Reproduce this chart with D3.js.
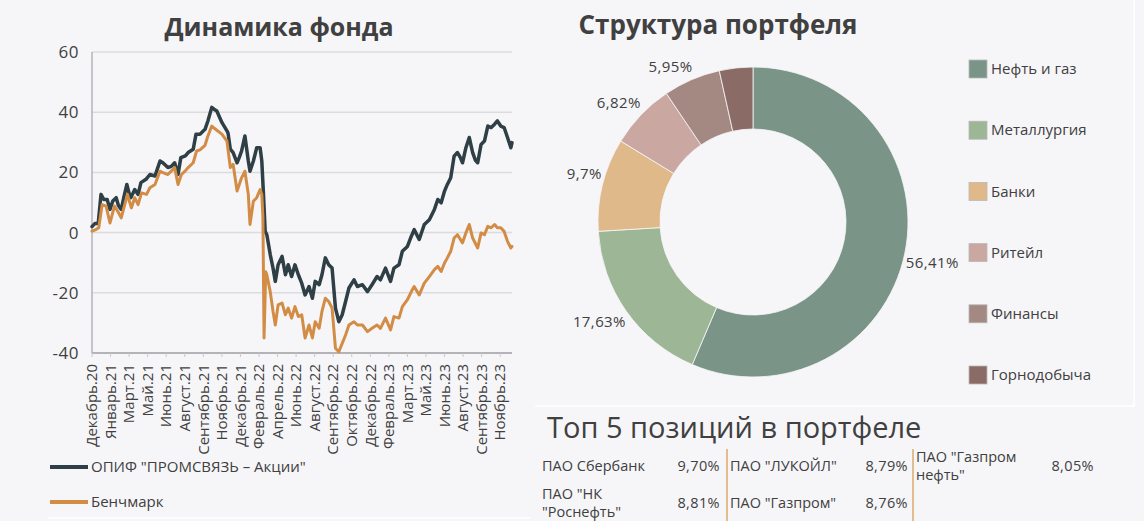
<!DOCTYPE html>
<html>
<head>
<meta charset="utf-8">
<script src="https://cdn.jsdelivr.net/npm/d3@7/dist/d3.min.js"></script>
<style>
    body { margin: 0; background: #f6f6f9; }
    svg { display: block; font-family: "Open Sans", sans-serif; }
</style>
</head>
<body>
<div id="page"></div>
<script>

// ---- data ----

// x axis labels (one every labelEvery trading days)
const monthLabels = ["Декабрь.20", "Январь.21", "Март.21", "Май.21", "Июнь.21", "Август.21", "Сентябрь.21",
    "Ноябрь.21", "Декабрь.21", "Февраль.22", "Апрель.22", "Июнь.22", "Август.22", "Сентябрь.22", "Октябрь.22",
    "Декабрь.22", "Февраль.23", "Март.23", "Май.23", "Июнь.23", "Август.23", "Сентябрь.23", "Ноябрь.23"];
const labelEvery = 33;
const totalDays = 747;

const yTicks = [60, 40, 20, 0, -20, -40];

// ОПИФ "ПРОМСВЯЗЬ – Акции", % since start
const fundDays = [0,5,11,16,21,27,32,37,43,47,52,57,62,66,69,76,82,87,96,103,112,116,121,126,135,141,147,153,158,166,
    171,180,185,192,201,206,213,217,222,231,240,242,246,251,258,262,266,272,278,281,287,293,299,302,305,308,311,317,322,326,
    331,338,344,349,355,361,367,373,379,386,392,397,404,409,415,421,427,433,439,445,451,457,466,472,481,490,498,507,513,522,
    531,537,546,552,561,568,573,582,591,600,609,615,621,627,632,638,644,650,655,659,665,671,677,682,686,692,698,704,710,716,
    721,727,733,739,745,747];
const fundValues = [2,3,3,12.7,11,11,7.7,10.5,11.6,9,7.7,12,16,13,11.6,14.3,12.7,16.6,17.7,19.3,
    18.8,21,23.8,23.2,21.6,22,23.2,19.3,24.9,25.5,26.6,27.7,32.7,32.7,34.3,37,41.6,41,40.4,36.6,
    33.8,33,27.7,26.6,23.2,25,27.1,32.1,23.8,20.4,23.8,28.2,28.2,23.8,12.7,0.4,-0.7,-7.3,-11.8,-16.2,
    -10.7,-7.9,-14,-10.7,-14.6,-10.7,-14,-16.8,-20.7,-17.9,-21.8,-16.2,-17.3,-14,-8.4,-10.7,-11.8,-25.1,-29.6,-27.3,
    -22.9,-18.4,-15.7,-17.9,-17.3,-19.6,-17.3,-14.6,-15.7,-11.8,-16.2,-11.8,-10.7,-6.2,-4.6,-1.2,1,-2.3,2.7,4.3,
    7.7,11,9.9,13.8,16,18.2,25.4,26.6,25,23.2,28.2,31.6,26.6,24,23.2,29.3,30.4,35.4,34.9,36,
    37.1,35.4,34.9,31.6,28.2,29.9];

// Бенчмарк, % since start
const benchDays = [0,7,12,18,25,32,40,46,52,63,70,76,82,88,97,103,112,121,126,135,
    147,153,159,166,171,180,186,192,201,206,213,222,231,240,246,251,258,266,272,278,
    281,287,293,299,302,304,306,309,311,317,322,326,331,338,344,349,355,361,367,373,
    379,386,392,397,404,409,415,421,427,433,439,445,451,457,466,472,481,490,498,507,
    513,522,531,537,546,552,561,568,573,582,591,600,609,615,621,627,632,638,644,650,
    659,665,671,677,686,692,698,704,710,716,721,727,733,739,745,747];
const benchValues = [0.5,1,1.6,9.3,8.8,3.2,8.8,7,4.9,12.7,8.2,11.6,9.3,13.2,12.7,14.9,16,20.4,19.9,19.3,
    21.6,16,19.3,20.5,21.6,23.2,27.1,27.5,29,32,35.4,34,32.7,30.4,21.6,22.7,13.8,18.2,20.4,12.7,
    2.7,10.4,11.6,14.3,12.7,5,-35,-13,-14,-19.6,-26.2,-30.7,-24,-23.4,-27.3,-25.1,-28.4,-24.6,-27.9,-27.3,
    -35,-30.7,-35,-29.6,-31.8,-26.2,-21.8,-22.9,-25.1,-38.4,-39.6,-36.8,-34,-30.7,-29.6,-30.7,-30.7,-32.9,-31.8,-30.7,
    -31.8,-28.4,-32.3,-27.9,-28.4,-24.6,-22.3,-19.6,-17.9,-20.7,-16.8,-14.6,-12.3,-11.2,-12.9,-10.1,-8.4,-6.2,-1.8,-0.7,
    -3.4,-0.1,2.7,-1.8,-5.1,-0.1,-0.7,2.1,1.6,2.7,1.6,1.6,0.4,-2.9,-5.1,-4.6];

const seriesNames = ['ОПИФ "ПРОМСВЯЗЬ – Акции"', "Бенчмарк"];
const seriesColors = ["#2e3f46", "#d38c45"];

// portfolio structure
const sectors = ["Нефть и газ", "Металлургия", "Банки", "Ритейл", "Финансы", "Горнодобыча"];
const sectorShares = [56.41, 17.63, 9.7, 6.82, 5.95, 3.49];
const sectorLabels = ["56,41%", "17,63%", "9,7%", "6,82%", "5,95%", null];
const sectorColors = ["#7a9588", "#9db695", "#e0b98a", "#cba7a1", "#a48983", "#8a6b65"];

// top 5 positions
const topNames = ["ПАО Сбербанк", "ПАО \"ЛУКОЙЛ\"", "ПАО \"Газпром\nнефть\"", "ПАО \"НК\n\"Роснефть\"", "ПАО \"Газпром\""];
const topShares = ["9,70%", "8,79%", "8,05%", "8,81%", "8,76%"];

const textColor = "#404040";


/* * * * * * * * * * * * * *
*        LineChart         *
* * * * * * * * * * * * * */

class LineChart {

    constructor(_svg) {
        this.svg = _svg;
        this.initVis();
    }

    initVis() {
        let vis = this;

        vis.margin = {top: 52, left: 92, right: 512, bottom: 353};

        vis.x = d3.scaleLinear().domain([0, totalDays]).range([vis.margin.left, vis.margin.right]);
        vis.y = d3.scaleLinear().domain([-40, 60]).range([vis.margin.bottom, vis.margin.top]);

        vis.g = vis.svg.append("g").attr("class", "line-chart");

        // title
        vis.g.append("text")
            .attr("x", 279).attr("y", 36)
            .attr("text-anchor", "middle")
            .attr("font-size", 25).attr("font-weight", 700)
            .attr("fill", textColor)
            .text("Динамика фонда");

        vis.updateVis();
    }

    updateVis() {
        let vis = this;

        // gridlines
        vis.g.selectAll(".grid")
            .data(yTicks.filter(d => d !== -40))
            .enter().append("line")
            .attr("class", "grid")
            .attr("x1", vis.margin.left).attr("x2", vis.margin.right)
            .attr("y1", d => vis.y(d)).attr("y2", d => vis.y(d))
            .attr("stroke", "#dcdcdf").attr("stroke-width", 1.5);

        // y labels
        vis.g.selectAll(".ylab")
            .data(yTicks)
            .enter().append("text")
            .attr("class", "ylab")
            .attr("x", 79).attr("y", d => vis.y(d))
            .attr("dy", "0.35em")
            .attr("text-anchor", "end")
            .attr("font-size", 17)
            .attr("letter-spacing", 0.5)
            .attr("fill", textColor)
            .text(d => d);

        // axes lines
        vis.g.append("line")
            .attr("x1", vis.margin.left).attr("x2", vis.margin.left)
            .attr("y1", vis.margin.top).attr("y2", vis.margin.bottom)
            .attr("stroke", "#b4b4b8").attr("stroke-width", 1.5);
        vis.g.append("line")
            .attr("x1", vis.margin.left).attr("x2", vis.margin.right)
            .attr("y1", vis.margin.bottom).attr("y2", vis.margin.bottom)
            .attr("stroke", "#b4b4b8").attr("stroke-width", 2);

        // x ticks + labels
        let ticks = vis.g.selectAll(".xtick")
            .data(monthLabels)
            .enter().append("g")
            .attr("class", "xtick")
            .attr("transform", (d, i) => `translate(${vis.x(i * labelEvery)}, ${vis.margin.bottom})`);

        ticks.append("line")
            .attr("y1", 0).attr("y2", 4)
            .attr("stroke", "#c8c8cc");

        ticks.append("text")
            .attr("transform", "translate(0, 11) rotate(-90)")
            .attr("text-anchor", "end")
            .attr("dy", "0.35em")
            .attr("font-size", 15)
            .attr("fill", textColor)
            .text(d => d);

        // lines
        let line = d3.line()
            .x(d => vis.x(d[0]))
            .y(d => vis.y(d[1]));

        let series = [
            d3.zip(fundDays, fundValues),
            d3.zip(benchDays, benchValues)
        ];

        vis.g.selectAll(".series")
            .data(series)
            .enter().append("path")
            .attr("class", "series")
            .attr("d", line)
            .attr("fill", "none")
            .attr("stroke", (d, i) => seriesColors[i])
            .attr("stroke-width", (d, i) => i === 0 ? 3.5 : 3)
            .attr("stroke-linejoin", "round")
            .attr("stroke-linecap", "round");

        // legend
        let legend = vis.g.selectAll(".legend")
            .data(seriesNames)
            .enter().append("g")
            .attr("class", "legend")
            .attr("transform", (d, i) => `translate(50, ${467 + i * 35})`);

        legend.append("line")
            .attr("x1", 0).attr("x2", 38)
            .attr("stroke", (d, i) => seriesColors[i])
            .attr("stroke-width", 4);

        legend.append("text")
            .attr("x", 41).attr("dy", "0.35em")
            .attr("font-size", 15)
            .attr("fill", textColor)
            .text(d => d);
    }
}


/* * * * * * * * * * * * * *
*        DonutChart        *
* * * * * * * * * * * * * */

class DonutChart {

    constructor(_svg) {
        this.svg = _svg;
        this.initVis();
    }

    initVis() {
        let vis = this;

        vis.cx = 753;
        vis.cy = 222;
        vis.outerRadius = 155;
        vis.innerRadius = 93;

        vis.g = vis.svg.append("g").attr("class", "donut");

        vis.g.append("text")
            .attr("x", 718).attr("y", 34)
            .attr("text-anchor", "middle")
            .attr("font-size", 26).attr("font-weight", 700)
            .attr("fill", textColor)
            .text("Структура портфеля");

        vis.pie = d3.pie().sort(null).value(d => d);
        vis.arc = d3.arc().innerRadius(vis.innerRadius).outerRadius(vis.outerRadius);
        vis.labelArc = d3.arc().innerRadius(158).outerRadius(158);

        vis.updateVis();
    }

    updateVis() {
        let vis = this;

        let pieGroup = vis.g.append("g")
            .attr("transform", `translate(${vis.cx}, ${vis.cy})`);

        let arcs = vis.pie(sectorShares);

        pieGroup.selectAll(".slice")
            .data(arcs)
            .enter().append("path")
            .attr("class", "slice")
            .attr("d", vis.arc)
            .attr("fill", (d, i) => sectorColors[i])
            .attr("stroke", "#f6f6f9")
            .attr("stroke-width", 0.8);

        // outside labels
        pieGroup.selectAll(".slice-label")
            .data(arcs.filter((d, i) => sectorLabels[i]))
            .enter().append("text")
            .attr("class", "slice-label")
            .each(function(d) {
                let c = vis.labelArc.centroid(d);
                let right = c[0] > 0;
                d3.select(this)
                    .attr("x", right ? c[0] - 2 : c[0] + 2)
                    .attr("y", c[1] + (c[1] > 0 ? 9 : -10))
                    .attr("text-anchor", right ? "start" : "end");
            })
            .attr("dy", "0.35em")
            .attr("font-size", 15)
            .attr("letter-spacing", 0.4)
            .attr("fill", textColor)
            .text(d => sectorLabels[d.index]);

        // legend
        let legend = vis.g.selectAll(".sector-legend")
            .data(sectors)
            .enter().append("g")
            .attr("class", "sector-legend")
            .attr("transform", (d, i) => `translate(969, ${69 + i * 61.2})`);

        legend.append("rect")
            .attr("x", 0).attr("y", -9)
            .attr("width", 18).attr("height", 18)
            .attr("fill", (d, i) => sectorColors[i])
            .attr("stroke", "#b8b8b8").attr("stroke-width", 0.8);

        legend.append("text")
            .attr("x", 22).attr("dy", "0.35em")
            .attr("font-size", 15)
            .attr("fill", textColor)
            .text(d => d);
    }
}


/* * * * * * * * * * * * * *
*        Top 5 table       *
* * * * * * * * * * * * * */

function drawTable(svg) {
    let g = svg.append("g").attr("class", "top5");

    g.append("text")
        .attr("x", 547).attr("y", 438)
        .attr("font-size", 29)
        .attr("fill", textColor)
        .text("Топ 5 позиций в портфеле");

    let colX = [542, 730, 916];
    let colW = 178;
    let rowY = [466, 503];

    // separators
    g.selectAll(".sep")
        .data([727, 913])
        .enter().append("line")
        .attr("class", "sep")
        .attr("x1", d => d).attr("x2", d => d)
        .attr("y1", 449).attr("y2", 521)
        .attr("stroke", "#e2bd90").attr("stroke-width", 2);

    topNames.forEach((name, i) => {
        let x = colX[i % 3];
        let y = rowY[Math.floor(i / 3)];
        let lines = name.split("\n");

        let t = g.append("text")
            .attr("font-size", 14.5)
            .attr("fill", textColor);
        lines.forEach((ln, j) => {
            t.append("tspan")
                .attr("x", x)
                .attr("y", y + (j - (lines.length - 1) / 2) * 18)
                .attr("dy", "0.35em")
                .text(ln);
        });

        g.append("text")
            .attr("x", x + colW).attr("y", y)
            .attr("dy", "0.35em")
            .attr("text-anchor", "end")
            .attr("font-size", 14.5)
            .attr("letter-spacing", 0.4)
            .attr("fill", textColor)
            .text(topShares[i]);
    });
}


// ---- page ----
const svg = d3.select("#page").append("svg")
    .attr("width", 1144)
    .attr("height", 521);

svg.append("rect")
    .attr("width", 1144).attr("height", 521)
    .attr("fill", "#f6f6f9");

// faint panel borders
svg.append("path")
    .attr("d", "M535,406 H1134 V0 M48,518 H530")
    .attr("fill", "none")
    .attr("stroke", "#ffffff").attr("stroke-width", 1.5);

new LineChart(svg);
new DonutChart(svg);
drawTable(svg);

</script>
</body>
</html>
